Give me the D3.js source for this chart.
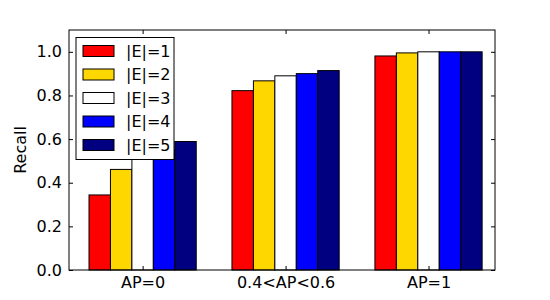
<!DOCTYPE html>
<html>
<head>
<meta charset="utf-8">
<script src="https://cdn.jsdelivr.net/npm/d3@7"></script>
<style>
  body { margin: 0; background: #fff; }
  svg text { font-family: "DejaVu Sans", sans-serif; }
</style>
</head>
<body>
<div id="chart"></div>
<script>
var groups = ["AP=0", "0.4<AP<0.6", "AP=1"];
var seriesNames = ["|E|=1", "|E|=2", "|E|=3", "|E|=4", "|E|=5"];
var seriesColors = ["#ff0000", "#ffd700", "#ffffff", "#0000ff", "#000080"];
// recall per series, one value per group
var e1 = [0.344, 0.822, 0.981];
var e2 = [0.461, 0.867, 0.995];
var e3 = [0.53, 0.890, 1.0];
var e4 = [0.55, 0.900, 1.0];
var e5 = [0.589, 0.914, 1.0];
var yTicks = [0.0, 0.2, 0.4, 0.6, 0.8, 1.0];

var config = {
  "width": 550,
  "height": 300,
  "margin": {top: 30, right: 55, bottom: 30, left: 69}
};

window.addEventListener("DOMContentLoaded", main);

function main() {
  var series = [e1, e2, e3, e4, e5];
  var m = config.margin;
  var w = config.width - m.left - m.right,
    h = config.height - m.top - m.bottom;

  var svg = d3.select("#chart")
    .append("svg")
    .attr("width", config.width)
    .attr("height", config.height);

  var g = svg.append("g")
    .attr("transform", "translate(" + m.left + "," + m.top + ")");

  // group positions 0,1,2; bars 0.15 wide centered on each
  var x = d3.scaleLinear().domain([-0.515, 2.465]).range([0, w]);
  var y = d3.scaleLinear().domain([0, 1.1]).range([h, 0]);
  var barW = 0.15;

  series.forEach(function(vals, si) {
    g.selectAll(".bar" + si)
      .data(vals)
      .enter()
      .append("rect")
      .attr("x", function(d, i) { return x(i - 2.5 * barW + si * barW); })
      .attr("width", x(barW) - x(0))
      .attr("y", function(d) { return y(d); })
      .attr("height", function(d) { return h - y(d); })
      .style("fill", seriesColors[si])
      .style("stroke", "#000")
      .style("stroke-width", "1px");
  });

  // axes, matplotlib classic style: ticks inside on all sides
  var xAxis = d3.axisBottom(x).tickValues([0, 1, 2])
    .tickFormat(function(d) { return groups[d]; })
    .tickSizeInner(-4).tickSizeOuter(0).tickPadding(7);
  var xTop = d3.axisTop(x).tickValues([0, 1, 2])
    .tickFormat("").tickSizeInner(-4).tickSizeOuter(0);
  var yAxis = d3.axisLeft(y).tickValues(yTicks)
    .tickFormat(d3.format(".1f"))
    .tickSizeInner(-4).tickSizeOuter(0).tickPadding(7);
  var yRight = d3.axisRight(y).tickValues(yTicks)
    .tickFormat("").tickSizeInner(-4).tickSizeOuter(0);

  g.append("g").attr("transform", "translate(0," + h + ")").call(xAxis);
  g.append("g").call(xTop);
  g.append("g").call(yAxis);
  g.append("g").attr("transform", "translate(" + w + ",0)").call(yRight);

  g.selectAll(".domain").remove();
  g.selectAll(".tick line").style("stroke", "#000");
  g.selectAll(".tick text")
    .style("font-size", "16px")
    .style("fill", "#000");

  g.append("rect")
    .attr("width", w)
    .attr("height", h)
    .style("fill", "none")
    .style("stroke", "#000")
    .style("stroke-width", "1px");

  svg.append("text")
    .attr("transform", "translate(26," + (m.top + h / 2) + ") rotate(-90)")
    .attr("text-anchor", "middle")
    .style("font-size", "16px")
    .text("Recall");

  // legend
  var legend = g.append("g").attr("transform", "translate(7,7.5)");
  legend.append("rect")
    .attr("width", 98)
    .attr("height", 122)
    .style("fill", "#fff")
    .style("stroke", "#000")
    .style("stroke-width", "1px");

  var items = legend.selectAll(".item")
    .data(seriesNames)
    .enter()
    .append("g")
    .attr("transform", function(d, i) { return "translate(7," + (8 + i * 23.5) + ")"; });

  items.append("rect")
    .attr("width", 31)
    .attr("height", 11)
    .style("fill", function(d, i) { return seriesColors[i]; })
    .style("stroke", "#000")
    .style("stroke-width", "1px");

  items.append("text")
    .attr("x", 43)
    .attr("y", 5.5)
    .attr("dy", "0.35em")
    .style("font-size", "16px")
    .text(function(d) { return d; });
}
</script>
</body>
</html>
